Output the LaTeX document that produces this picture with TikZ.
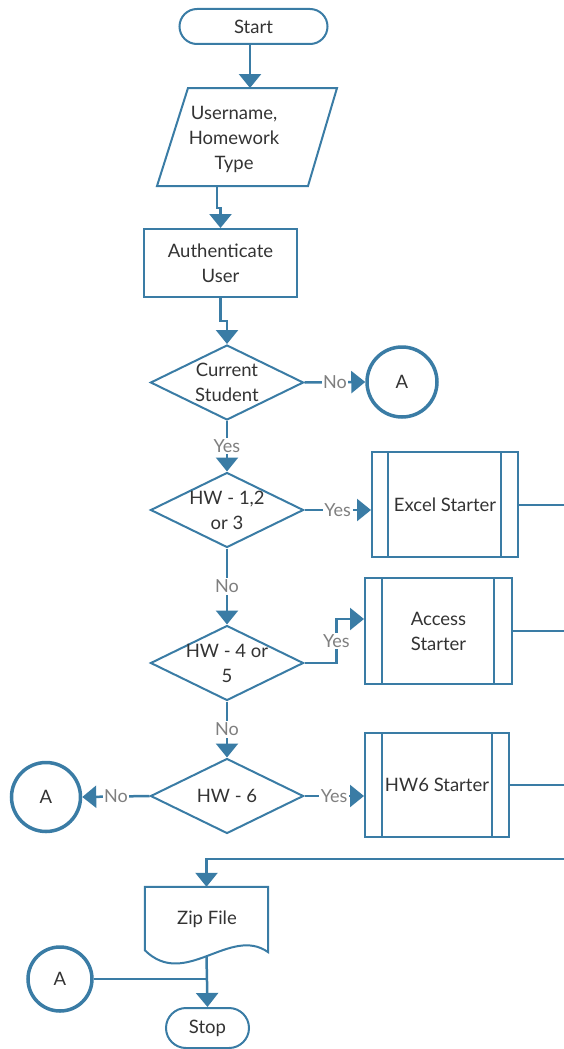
\documentclass[tikz,border=0pt]{standalone}
\usepackage{fontspec}
\setmainfont{Lato}
\usetikzlibrary{arrows.meta,shapes.geometric,calc}
\definecolor{fcblue}{HTML}{3A7CA5}
\definecolor{fctext}{HTML}{333333}
\definecolor{fclbl}{HTML}{7F7F7F}
\begin{document}
\begin{tikzpicture}[x=1pt,y=-1pt,
  txt/.style={text=fctext,font=\fontsize{18.5}{25}\selectfont,align=center,inner sep=0pt},
  shp/.style={txt,draw=fcblue,line width=2pt},
  term/.style={shp,rectangle},
  proc/.style={shp,rectangle},
  dia/.style={draw=fcblue,line width=2pt,diamond,inner sep=0pt,minimum width=153pt,minimum height=75pt},
  conncircle/.style={shp,circle,line width=3.5pt},
  conn/.style={draw=fcblue,line width=2.5pt,-{Triangle[width=22pt,length=14pt]}},
  plain/.style={draw=fcblue,line width=2.5pt},
  outl/.style={draw=fcblue,line width=2pt},
  lbl/.style={fill=white,text=fclbl,font=\fontsize{18}{20}\selectfont,inner sep=1.5pt}
]
\useasboundingbox (0,0) rectangle (564,1049);

% nodes
\node[term,rounded corners=17.5pt,minimum width=148pt,minimum height=35pt] (start) at (253.5,26.5) {Start};

\coordinate (inTop) at (250,88);
\coordinate (inBot) at (217,186);
\draw[outl] (188,88) -- (337,88) -- (308,186) -- (157,186) -- cycle;
\node[txt] (in) at (234,139) {Username,\\Homework\\Type};

\node[proc,minimum width=153pt,minimum height=68pt] (auth) at (220.5,263) {Authenticate\\User};

\node[dia] (d1) at (227,382.5) {};
\node[txt] at (d1) {Current\\Student};

\node[conncircle,minimum size=70pt] (A1) at (402,382) {A};

\node[dia] (d2) at (227,510) {};
\node[txt] at (d2) {HW - 1,2\\or 3};

\node[proc,minimum width=146pt,minimum height=105pt] (excel) at (445,504.5) {Excel Starter};
\draw[outl] ([xshift=17pt]excel.north west) -- ([xshift=17pt]excel.south west);
\draw[outl] ([xshift=-18pt]excel.north east) -- ([xshift=-18pt]excel.south east);

\node[dia] (d3) at (227,663) {};
\node[txt] at (d3) {HW - 4 or\\5};

\node[proc,minimum width=147pt,minimum height=106pt] (access) at (438.5,631) {Access\\Starter};
\draw[outl] ([xshift=18pt]access.north west) -- ([xshift=18pt]access.south west);
\draw[outl] ([xshift=-19pt]access.north east) -- ([xshift=-19pt]access.south east);

\node[dia] (d4) at (227,796) {};
\node[txt] at (d4) {HW - 6};

\node[conncircle,minimum size=69pt] (A2) at (46,797) {A};

\node[proc,minimum width=144pt,minimum height=104pt] (hw6) at (437,785) {HW6 Starter};
\draw[outl] ([xshift=18pt]hw6.north west) -- ([xshift=18pt]hw6.south west);
\draw[outl] ([xshift=-18pt]hw6.north east) -- ([xshift=-18pt]hw6.south east);

\node[txt,minimum width=123pt,minimum height=69pt] (zip) at (206.5,921.5) {};
\node[txt] at (207,919) {Zip File};
\draw[outl] (zip.north west) -- (zip.north east) -- ([yshift=4pt]zip.south east)
  .. controls (230,925) and (185,990) .. ([yshift=6pt]zip.south west) -- cycle;

\node[conncircle,minimum size=64pt] (A3) at (60,979) {A};

\node[term,rounded corners=20pt,minimum width=83pt,minimum height=40pt] (stop) at (207.5,1028) {Stop};

% right edge coordinates
\coordinate (eE) at (564,504.5);
\coordinate (eA) at (564,631);
\coordinate (eH) at (564,785);
\coordinate (eB) at (564,859);

% connectors
\draw[conn] (start.south -| inTop) -- (inTop);
\draw[conn] (inBot) -- ++(0,22) -| (auth.north);
\draw[conn] (auth.south) -- ++(0,23) -| (d1.north);
\draw[conn] (d1.east) -- node[lbl]{No} (A1.west);
\draw[conn] (d1.south) -- node[lbl]{Yes} (d2.north);
\draw[conn] (d2.east) -- node[lbl]{Yes} (d2.east -| excel.west);
\draw[conn] (d2.south) -- node[lbl]{No} (d3.north);
\draw[conn] (d3.east) -- ++(32,0) |- node[lbl,pos=0.25]{Yes} ([yshift=12pt]access.west);
\draw[conn] (d3.south) -- node[lbl]{No} (d4.north);
\draw[conn] (d4.west) -- node[lbl]{No} (A2.east);
\draw[conn] (d4.east) -- node[lbl]{Yes} (d4.east -| hw6.west);
\draw[outl] (excel.east) -- (eE);
\draw[outl] (access.east) -- (eA);
\draw[outl] (hw6.east) -- (eH);
\draw[conn] (eB) -| (zip.north);
\draw[conn] (zip.south) -- (stop.north);
\draw[plain] (A3.east) -- (A3.east -| zip.south);
\end{tikzpicture}
\end{document}
